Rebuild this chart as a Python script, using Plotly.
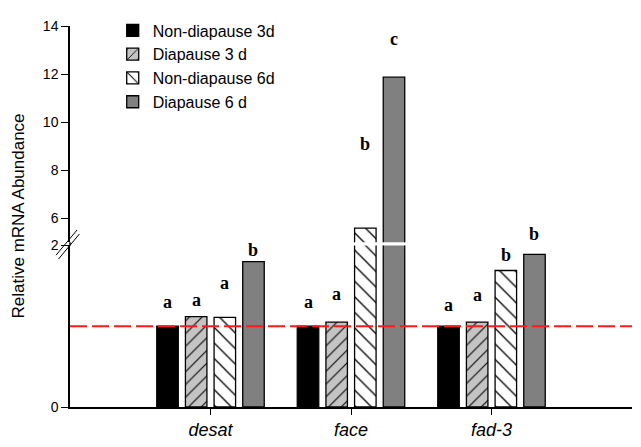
import plotly.graph_objects as go

categories = ["desat", "face", "fad-3"]
series_names = ["Non-diapause 3d", "Diapause 3 d", "Non-diapause 6d", "Diapause 6 d"]
non_diapause_3d = [1.00, 1.00, 1.00]
diapause_3d = [1.12, 1.05, 1.05]
non_diapause_6d = [1.11, 5.58, 1.69]
diapause_6d = [1.80, 11.87, 1.89]
letters = [["a", "a", "a"], ["a", "a", "a"], ["a", "b", "b"], ["b", "c", "b"]]
reference_level = 1.0
lower_ticks = [0, 2]
upper_ticks = [6, 8, 10, 12, 14]

values = [non_diapause_3d, diapause_3d, non_diapause_6d, diapause_6d]

# styles
fills = ["#000000", "#c4c4c4", "#ffffff", "#808080"]
patterns = ["", "/", "\\", ""]
pattern_size = [8, 9, 11, 8]
letter_shift = [[24, 24, 21], [17, 28, 27], [34, 84, 16], [12, 38, 20]]

BARGAP = 0.184
LOW_TOP = 0.4239
UP_BOT = 0.4327
PW, PH = 562, 394  # plot area size in px

fig = go.Figure()
for i, (name, vals) in enumerate(zip(series_names, values)):
    marker = dict(color=fills[i], line=dict(color="black", width=1.3))
    if patterns[i]:
        marker["pattern"] = dict(shape=patterns[i], fgcolor="black", bgcolor=fills[i],
                                 size=pattern_size[i], solidity=0.12, fillmode="replace")
    for ax, show in (("y", True), ("y2", False)):
        fig.add_trace(go.Bar(x=categories, y=vals, name=name, marker=marker,
                             xaxis="x", yaxis=ax, showlegend=show,
                             legendgroup=name, offsetgroup=str(i)))

# significance letters
slot = (1 - BARGAP) / 4
for i, vals in enumerate(values):
    for j, v in enumerate(vals):
        fig.add_annotation(x=j + (i - 1.5) * slot, y=v, xref="x",
                           yref="y2" if v > 2 else "y",
                           text=letters[i][j], showarrow=False, yanchor="middle",
                           yshift=letter_shift[i][j],
                           font=dict(family="Liberation Serif", size=18, color="black",
                                     weight="bold"))

# reference dashed line
fig.add_shape(type="line", xref="paper", x0=0, x1=1, yref="y",
              y0=reference_level, y1=reference_level,
              line=dict(color="#ff1a1a", width=2, dash="17px,5px"))

# axis break decorations
fig.add_shape(type="line", xref="paper", yref="paper", x0=0, x1=0, y0=LOW_TOP, y1=UP_BOT,
              line=dict(color="black", width=1.5))
for dx, dy in ((0, 0), (2.5, 4)):
    # pixel offsets relative to the plot-area origin (left, bottom)
    x0p, y0p, x1p, y1p = -14 + dx, 157 - dy, 7 + dx, 183 - dy
    fig.add_shape(type="line", xref="paper", yref="paper",
                  x0=x0p / PW, x1=x1p / PW, y0=y0p / PH, y1=y1p / PH,
                  line=dict(color="black", width=1))

fig.add_annotation(text="Relative mRNA Abundance", xref="paper", yref="paper",
                   x=-52 / PW, y=0.5, xanchor="center", yanchor="middle",
                   textangle=-90, showarrow=False,
                   font=dict(family="Arial", size=17, color="black"))

axis_font = dict(family="Arial", size=14, color="black")
fig.update_layout(
    width=633, height=439,
    margin=dict(l=62, r=9, t=5, b=40),
    paper_bgcolor="white", plot_bgcolor="white",
    barmode="group", bargap=BARGAP, bargroupgap=0.25,
    xaxis=dict(type="category", range=[-1, 3], anchor="y", showline=True,
               linecolor="black", linewidth=1.5, ticks="outside", ticklen=6,
               tickcolor="black", showgrid=False, zeroline=False,
               tickfont=dict(family="Arial", size=18, color="black", style="italic")),
    yaxis=dict(domain=[0, LOW_TOP], range=[0, 2], tickvals=lower_ticks,
               showline=True, linecolor="black", linewidth=1.5, ticks="outside",
               ticklen=7, tickcolor="black", showgrid=False, zeroline=False,
               tickfont=axis_font),
    yaxis2=dict(domain=[UP_BOT, 1], range=[5, 14], tickvals=upper_ticks, anchor="x",
                showline=True, linecolor="black", linewidth=1.5, ticks="outside",
                ticklen=7, tickcolor="black", showgrid=False, zeroline=False,
                tickfont=axis_font),
    legend=dict(x=0.076, y=1.033, xanchor="left", yanchor="top",
                bgcolor="rgba(0,0,0,0)", font=dict(family="Arial", size=16, color="black"),
                tracegroupgap=0, itemwidth=30),
    showlegend=True,
)

fig.write_html("out.html")
